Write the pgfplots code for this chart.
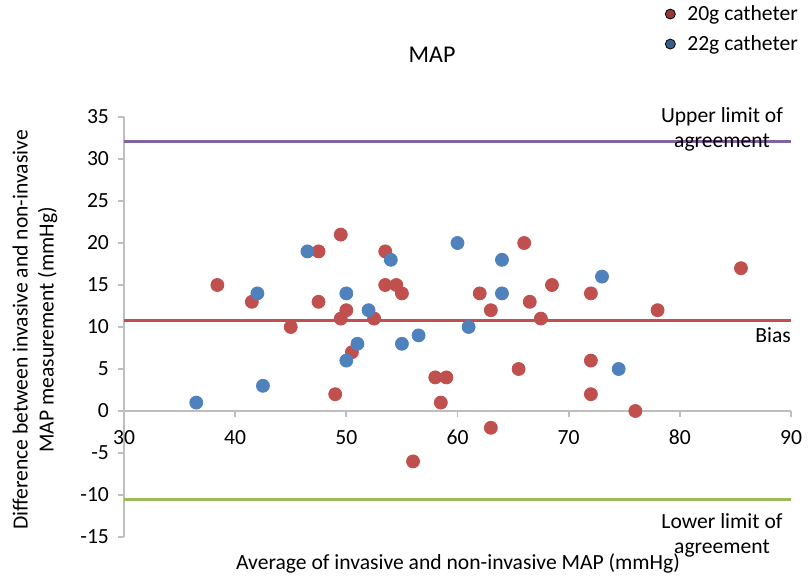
\documentclass[border=0pt]{standalone}
\usepackage{fontspec}
\setmainfont{Carlito}
\usepackage{pgfplots}
\pgfplotsset{compat=1.18}
\definecolor{serred}{HTML}{C0504D}
\definecolor{serblue}{HTML}{4F81BD}
\definecolor{legred}{HTML}{953735}
\definecolor{legblue}{HTML}{385D8A}
\definecolor{loapurple}{HTML}{8064A2}
\definecolor{loagreen}{HTML}{9BBB59}
\definecolor{axgray}{HTML}{BEBEBE}

% 1 px of the reference = 0.5pt
\begin{document}
\begin{tikzpicture}
\useasboundingbox (0,0) rectangle (405pt,289.5pt);
\begin{axis}[
  at={(62pt,21pt)}, anchor=south west,
  scale only axis, width=333.5pt, height=210pt,
  xmin=30, xmax=90, ymin=-15, ymax=35,
  axis x line=middle, axis y line=left,
  axis line style={axgray, line width=0.9pt, -},
  hide obscured x ticks=false, hide obscured y ticks=false,
  xtick={30,40,...,90}, ytick={-15,-10,...,35},
  tick align=outside, major tick length=3pt,
  tick style={axgray, line width=0.9pt},
  x tick label style={anchor=north, yshift=-3pt},
  y tick label style={anchor=east, xshift=-1pt},
  /pgf/number format/assume math mode=true,
  tick label style={font=\fontsize{10.8}{13}\selectfont},
  clip=false,
  legend style={at={(axis description cs:0.811,1.277)}, anchor=north west,
    draw=none, fill=none, font=\fontsize{10.8}{13}\selectfont,
    row sep=2pt, inner sep=0pt,
    /tikz/every odd column/.append style={column sep=4pt}},
  legend cell align=left,
]
% limits of agreement and bias
\addplot[forget plot, loapurple, line width=1.5pt] coordinates {(30,32.1) (90,32.1)};
\addplot[forget plot, serred, line width=1.5pt] coordinates {(30,10.8) (90,10.8)};
\addplot[forget plot, loagreen, line width=1.5pt] coordinates {(30,-10.5) (90,-10.5)};
% 20g catheter
\addplot[forget plot, only marks, mark=*, mark size=3.25pt, serred, mark options={draw=none, fill=serred}] coordinates {
  (38.4,15) (41.5,13) (45,10) (47.5,19) (49.5,21) (47.5,13) (50,12) (49.5,11)
  (50.5,7) (49,2) (53.5,19) (53.5,15) (54.5,15) (55,14) (52.5,11) (58,4)
  (59,4) (58.5,1) (56,-6) (63,-2) (65.5,5) (66.5,13) (67.5,11) (68.5,15)
  (66,20) (62,14) (63,12) (72,14) (78,12) (85.5,17) (72,6) (72,2) (76,0)};
% 22g catheter
\addplot[forget plot, only marks, mark=*, mark size=3.25pt, serblue, mark options={draw=none, fill=serblue}] coordinates {
  (36.5,1) (42.5,3) (42,14) (46.5,19) (50,14) (50,6) (51,8) (60,20) (64,18)
  (64,14) (61,10) (56.5,9) (55,8) (52,12) (54,18) (73,16) (74.5,5)};
\addlegendimage{only marks, mark=*, mark size=2.5pt, mark options={draw=none, fill=legred}}
\addlegendentry{20g catheter}
\addlegendimage{only marks, mark=*, mark size=2.5pt, mark options={draw=none, fill=legblue}}
\addlegendentry{22g catheter}
\end{axis}
\node[font=\fontsize{12}{14}\selectfont] at (216pt,262pt) {MAP};
\node[align=center, font=\fontsize{10.8}{12.5}\selectfont] at (361pt,225pt) {Upper limit of\\agreement};
\node[anchor=east, font=\fontsize{10.8}{13}\selectfont] at (399pt,122pt) {Bias};
\node[align=center, font=\fontsize{10.8}{12.5}\selectfont] at (361pt,22pt) {Lower limit of\\agreement};
\node[font=\fontsize{10.8}{13}\selectfont] at (229pt,8pt) {Average of invasive and non-invasive MAP (mmHg)};
\node[align=center, rotate=90, font=\fontsize{10.8}{13}\selectfont] at (17.5pt,124.5pt) {Difference between invasive and non-invasive\\MAP measurement (mmHg)};
\end{tikzpicture}
\end{document}
